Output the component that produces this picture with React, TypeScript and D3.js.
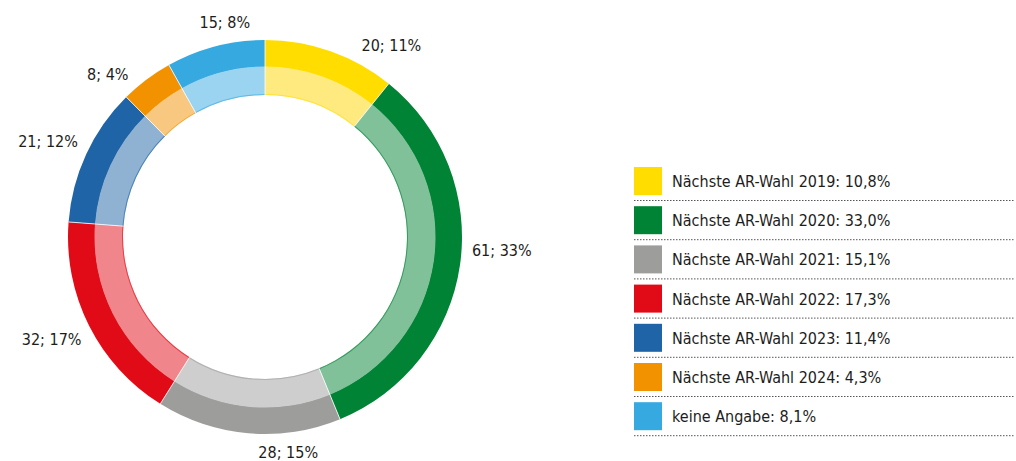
import React, { useRef, useEffect } from 'react';
import * as d3 from 'd3';

// data
const categories = [
  'Nächste AR-Wahl 2019',
  'Nächste AR-Wahl 2020',
  'Nächste AR-Wahl 2021',
  'Nächste AR-Wahl 2022',
  'Nächste AR-Wahl 2023',
  'Nächste AR-Wahl 2024',
  'keine Angabe',
];
const counts = [20, 61, 28, 32, 21, 8, 15];
const sharePercent = ['10,8%', '33,0%', '15,1%', '17,3%', '11,4%', '4,3%', '8,1%'];
const sliceLabels = ['20; 11%', '61; 33%', '28; 15%', '32; 17%', '21; 12%', '8; 4%', '15; 8%'];
const colors = ['#ffdd00', '#008334', '#9d9d9c', '#e10b17', '#1f64a6', '#f39200', '#36a9e1'];
const lightColors = ['#ffea7f', '#80c19a', '#cecece', '#f0868b', '#8fb2d3', '#f9c880', '#9bd4f0'];

const W = 1016;
const H = 461;
const FONT = '"DejaVu Sans Condensed", "Liberation Sans Narrow", sans-serif';

const App = () => {
  const svgRef = useRef<SVGSVGElement | null>(null);

  useEffect(() => {
    if (!svgRef.current) return;
    const svg = d3.select(svgRef.current);
    svg.selectAll('*').remove();

    const cx = 265;
    const cy = 237;
    const rOuter = 197;
    const rMid = 170;
    const rInner = 142;

    const pie = d3.pie<number>().sort(null).value(d => d);
    const arcs = pie(counts);

    const g = svg.append('g').attr('transform', `translate(${cx},${cy})`);

    const outerArc = d3.arc<d3.PieArcDatum<number>>().innerRadius(rMid).outerRadius(rOuter);
    const innerArc = d3.arc<d3.PieArcDatum<number>>().innerRadius(rInner).outerRadius(rMid + 0.5);
    const edgeArc = d3.arc<d3.PieArcDatum<number>>().innerRadius(rInner).outerRadius(rInner + 1);

    g.selectAll('path.outer')
      .data(arcs)
      .enter()
      .append('path')
      .attr('class', 'outer')
      .attr('d', outerArc)
      .attr('fill', (_, i) => colors[i]);

    g.selectAll('path.inner')
      .data(arcs)
      .enter()
      .append('path')
      .attr('class', 'inner')
      .attr('d', innerArc)
      .attr('fill', (_, i) => lightColors[i]);

    g.selectAll('path.edge')
      .data(arcs)
      .enter()
      .append('path')
      .attr('class', 'edge')
      .attr('d', edgeArc)
      .attr('fill', (_, i) => colors[i])
      .attr('opacity', 0.6);

    // thin white separators between slices
    g.selectAll('line.sep')
      .data(arcs)
      .enter()
      .append('line')
      .attr('class', 'sep')
      .attr('x1', d => rInner * Math.sin(d.startAngle))
      .attr('y1', d => -rInner * Math.cos(d.startAngle))
      .attr('x2', d => rOuter * Math.sin(d.startAngle))
      .attr('y2', d => -rOuter * Math.cos(d.startAngle))
      .attr('stroke', '#fff')
      .attr('stroke-width', 0.8);

    // slice labels outside the ring, nudged as in the original layout
    const labelShift = [14, -5, -11, 1, -1, -7, 4];
    const gap = 10;
    g.selectAll('text.lbl')
      .data(arcs)
      .enter()
      .append('text')
      .attr('class', 'lbl')
      .attr('font-family', FONT)
      .attr('font-size', 16)
      .attr('fill', '#1d1d1b')
      .attr('text-anchor', 'middle')
      .text((_, i) => sliceLabels[i])
      .each(function (d, i) {
        const el = this as SVGTextElement;
        const hw = el.getComputedTextLength() / 2;
        const hh = 7;
        const a = (d.startAngle + d.endAngle) / 2 + (labelShift[i] * Math.PI) / 180;
        const s = Math.sin(a);
        const c = Math.cos(a);
        const r = rOuter + gap + hw * Math.abs(s) + hh * Math.abs(c);
        d3.select(el)
          .attr('x', r * s)
          .attr('y', -r * c + 5.5);
      });

    // legend
    const legendX = 634;
    const rowH = 39.2;
    const firstLine = 200;
    const leg = svg.append('g');
    const rows = leg
      .selectAll('g.row')
      .data(categories)
      .enter()
      .append('g')
      .attr('class', 'row')
      .attr('transform', (_, i) => `translate(${legendX},${firstLine + i * rowH})`);

    rows
      .append('rect')
      .attr('x', 0)
      .attr('y', -33)
      .attr('width', 28)
      .attr('height', 28)
      .attr('fill', (_, i) => colors[i]);

    rows
      .append('text')
      .attr('x', 38)
      .attr('y', -13)
      .attr('font-family', FONT)
      .attr('font-size', 16)
      .attr('fill', '#1d1d1b')
      .text((d, i) => `${d}: ${sharePercent[i]}`);

    rows
      .append('line')
      .attr('x1', 0)
      .attr('x2', W - legendX - 2)
      .attr('y1', 0.5)
      .attr('y2', 0.5)
      .attr('stroke', '#555')
      .attr('stroke-width', 1)
      .attr('stroke-dasharray', '1.5 1.5');
  }, []);

  return (
    <svg
      ref={svgRef}
      width={W}
      height={H}
      style={{ position: 'absolute', left: 0, top: 0, background: '#fff' }}
    />
  );
};

export default App;
